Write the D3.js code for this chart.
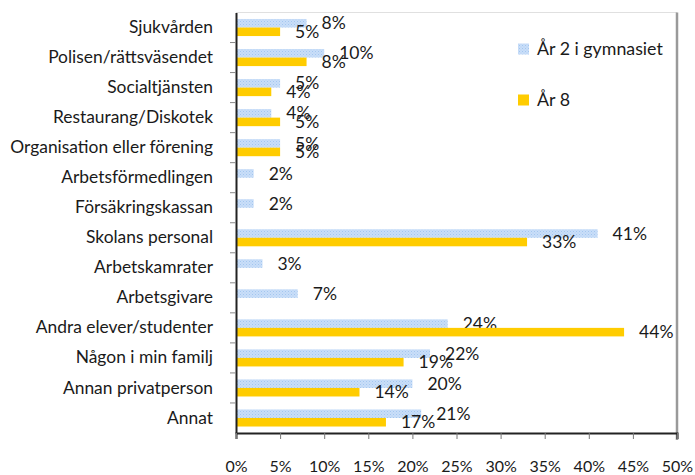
<!DOCTYPE html>
<html><head><meta charset="utf-8">
<script src="https://cdn.jsdelivr.net/npm/d3@7"></script>
<style>
body{margin:0;background:#fff;}
svg text{font-family:Lato,"Open Sans",sans-serif;fill:#1a1a1a;}
</style></head>
<body><svg id="chart" width="695" height="475"></svg>
<script>
const categories = ["Sjukvården","Polisen/rättsväsendet","Socialtjänsten","Restaurang/Diskotek","Organisation eller förening","Arbetsförmedlingen","Försäkringskassan","Skolans personal","Arbetskamrater","Arbetsgivare","Andra elever/studenter","Någon i min familj","Annan privatperson","Annat"];
const gymnasiet = [8,10,5,4,5,2,2,41,3,7,24,22,20,21];
const ar8 = [5,8,4,5,5,null,null,33,null,null,44,19,14,17];
const seriesNames = ["År 2 i gymnasiet","År 8"];
const xTicks = [0,5,10,15,20,25,30,35,40,45,50];

const svg = d3.select("#chart");
const m = {left:236, right:677, top:12.5, bottom:433};

const defs = svg.append("defs");
const pat = defs.append("pattern").attr("id","dots").attr("patternUnits","userSpaceOnUse").attr("width",3).attr("height",3);
pat.append("rect").attr("width",3).attr("height",3).attr("fill","#c9def8");
pat.append("rect").attr("width",1).attr("height",1).attr("fill","#a3c6f0");
pat.append("rect").attr("x",1.5).attr("y",1.5).attr("width",1).attr("height",1).attr("fill","#b4d1f4");

const x = d3.scaleLinear().domain([0,50]).range([m.left,m.right]);
const y = d3.scaleBand().domain(categories).range([m.top,m.bottom]);
const inner = d3.scaleBand().domain([0,1]).range([0,y.bandwidth()]).paddingOuter(0.76).paddingInner(0);

// frame
svg.append("line").attr("x1",m.left).attr("x2",m.right).attr("y1",m.top).attr("y2",m.top).attr("stroke","#e0e0e0");
svg.append("line").attr("x1",m.right).attr("x2",m.right).attr("y1",m.top).attr("y2",m.bottom+7).attr("stroke","#9a9a9a").attr("stroke-width",2.5);

const colors = ["url(#dots)","#ffcc00"];
const data = [gymnasiet, ar8];
const labelFont = 17.5;

data.forEach((vals,si)=>{
  const g = svg.append("g");
  categories.forEach((c,i)=>{
    const v = vals[i];
    if(v==null) return;
    const yy = y(c)+inner(si);
    g.append("rect").attr("x",x(0)).attr("y",yy).attr("width",x(v)-x(0)).attr("height",inner.bandwidth()).attr("fill",colors[si]);
    g.append("text").attr("x",x(v)+15).attr("y",yy+inner.bandwidth()/2).attr("dy","0.35em")
      .attr("font-size",labelFont).text(v+"%");
  });
});

// y axis
const yAxis = svg.append("g").attr("transform",`translate(${m.left},0)`)
  .call(d3.axisLeft(y).tickSize(0).tickPadding(23));
yAxis.select(".domain").attr("stroke","#222").attr("stroke-width",2);
yAxis.selectAll("text").attr("font-size",17.4).attr("fill","#1a1a1a").style("font-family","Lato");
// category separator ticks
svg.append("g").selectAll("line").data(categories.slice(1)).join("line")
  .attr("x1",m.left-6).attr("x2",m.left).attr("y1",d=>y(d)).attr("y2",d=>y(d)).attr("stroke","#888");

// x axis
const xAxis = svg.append("g").attr("transform",`translate(0,${m.bottom})`)
  .call(d3.axisBottom(x).tickValues(xTicks).tickSize(6).tickPadding(22).tickFormat(d=>d+"%"));
xAxis.select(".domain").attr("stroke","#222").attr("stroke-width",2);
xAxis.selectAll(".tick line").attr("stroke","#777");
xAxis.selectAll("text").attr("font-size",16).attr("fill","#1a1a1a").style("font-family","Lato");

// legend
const leg = svg.append("g");
const legY = [49,100];
seriesNames.forEach((n,i)=>{
  leg.append("rect").attr("x",518).attr("y",legY[i]-5.5).attr("width",11).attr("height",11).attr("fill",colors[i]);
  leg.append("text").attr("x",537).attr("y",legY[i]).attr("dy","0.35em").attr("font-size",17.8).text(n);
});
</script></body></html>
